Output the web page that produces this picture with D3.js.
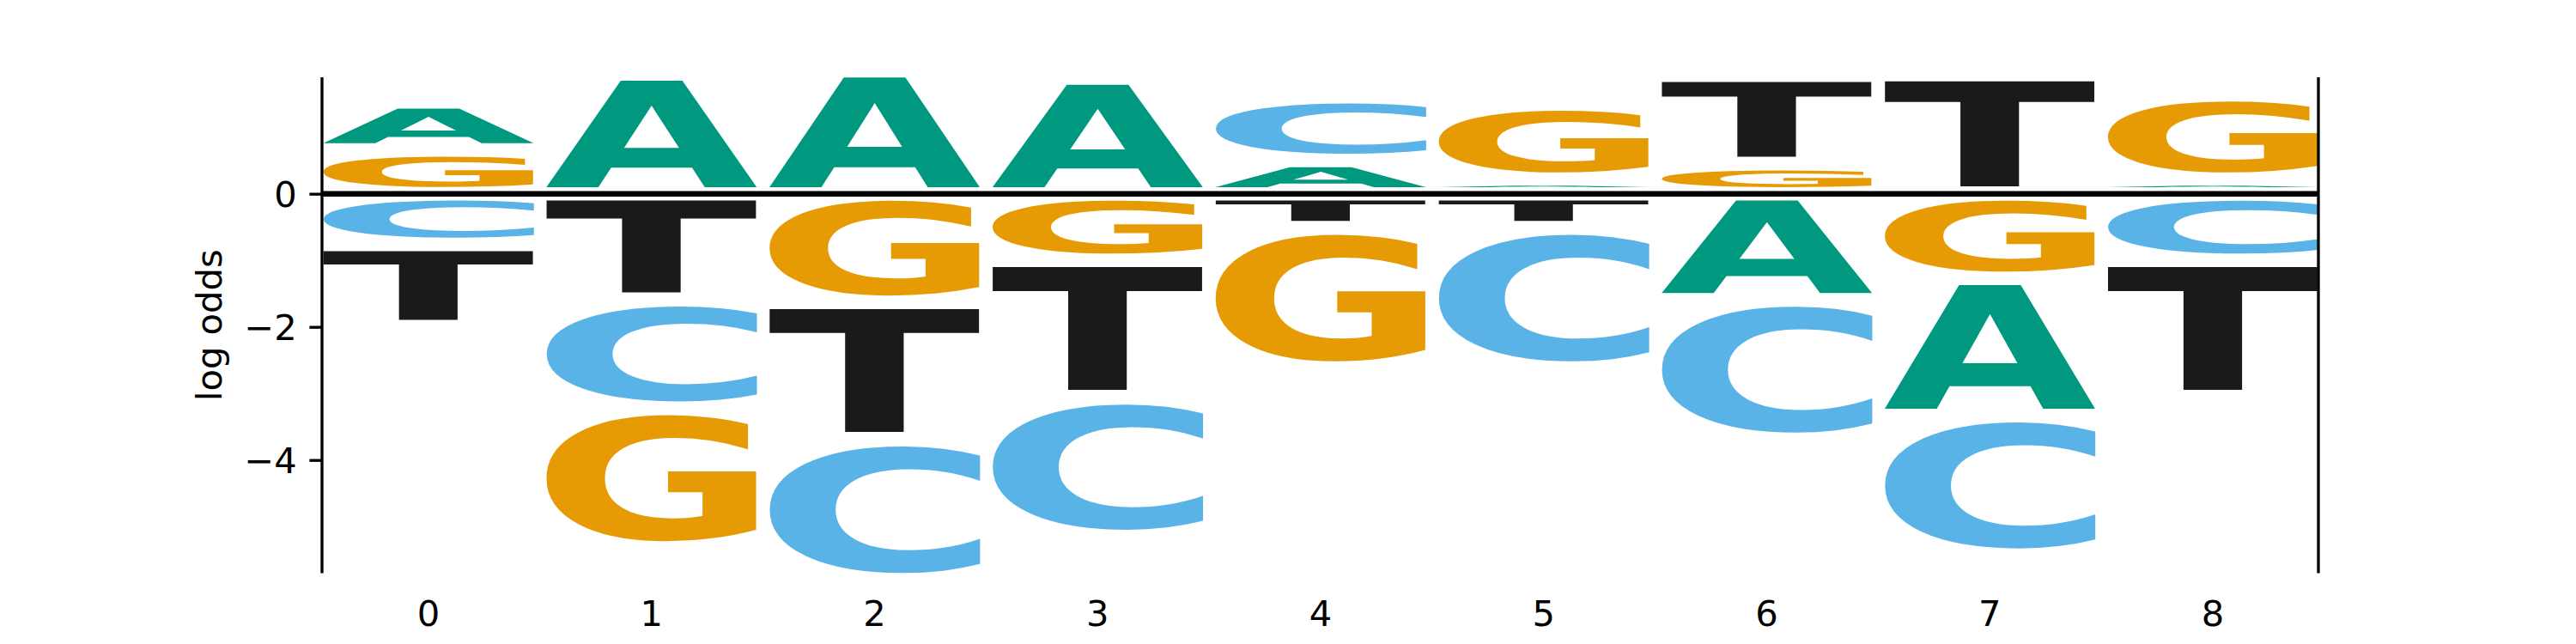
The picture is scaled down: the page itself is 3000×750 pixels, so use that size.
<!DOCTYPE html>
<html>
<head>
<meta charset="utf-8">
<script src="https://cdn.jsdelivr.net/npm/d3@7"></script>
<style>
  body { margin: 0; background: #fff; }
  svg { display: block; font-family: "DejaVu Sans", sans-serif; }
</style>
</head>
<body>
<div id="logo"></div>
<script>
/* sequence logo, log odds */
const positions = [0, 1, 2, 3, 4, 5, 6, 7, 8];
const letters = ["A", "C", "G", "T"];
const valA = [0.52, 1.60, 1.65, 1.54, 0.30, 0.02, -1.39, -1.86, 0.02];
const valC = [-0.56, -1.43, -1.91, -1.89, 0.76, -1.91, -1.90, -1.90, -0.80];
const valG = [0.46, -1.90, -1.43, -0.80, -1.91, 0.93, 0.25, -1.07, 1.07];
const valT = [-1.04, -1.39, -1.86, -1.86, -0.31, -0.31, 1.13, 1.59, -1.86];
const yTicks = [-4, -2, 0];
const yLabel = "log odds";

const colors = { A: "#009980", C: "#59B3E6", G: "#E69B04", T: "#1A1A1A" };
const values = { A: valA, C: valC, G: valG, T: valT };

const width = 3000, height = 750,
    margin = ({ top: 90, right: 300, bottom: 82.5, left: 375 });
const glyphWidth = 0.95, vsep = 0.2;

// stack letters per position, smallest at bottom (logomaker style)
let glyphs = [];
positions.forEach((p, i) => {
    let ws = letters.map(l => ({ letter: l, w: values[l][i] }))
        .sort((a, b) => a.w - b.w);
    let floor = d3.sum(ws, d => d.w < 0 ? d.w - vsep : 0) + vsep / 2;
    for (let d of ws) {
        let ceiling = floor + Math.abs(d.w);
        glyphs.push({ p: p, letter: d.letter, floor: floor, ceiling: ceiling });
        floor = ceiling + vsep;
    }
});

const svg = d3.select("#logo")
    .append("svg")
    .attr("width", width)
    .attr("height", height);

let x = d3.scaleLinear()
    .domain([d3.min(positions) - glyphWidth / 2, d3.max(positions) + glyphWidth / 2])
    .range([margin.left, width - margin.right]);

let y = d3.scaleLinear()
    .domain([d3.min(glyphs, d => d.floor), d3.max(glyphs, d => d.ceiling)])
    .range([height - margin.bottom, margin.top]);

// ink box of each letter, measured on a canvas with the same font
const fontSize = 200;
const ctx = document.createElement("canvas").getContext("2d");
ctx.font = `bold ${fontSize}px "DejaVu Sans"`;
let ink = {};
for (let l of letters) {
    let m = ctx.measureText(l);
    ink[l] = { x0: -m.actualBoundingBoxLeft, x1: m.actualBoundingBoxRight,
               y0: -m.actualBoundingBoxAscent, y1: m.actualBoundingBoxDescent };
}

svg.append("g")
  .selectAll("text")
  .data(glyphs)
  .join("text")
    .attr("font-size", fontSize)
    .attr("font-weight", "bold")
    .attr("fill", d => colors[d.letter])
    .attr("transform", d => {
        let b = ink[d.letter];
        let x0 = x(d.p - glyphWidth / 2), x1 = x(d.p + glyphWidth / 2);
        let y0 = y(d.ceiling), y1 = y(d.floor);
        let sx = (x1 - x0) / (b.x1 - b.x0), sy = (y1 - y0) / (b.y1 - b.y0);
        return `translate(${x0},${y0}) scale(${sx},${sy}) translate(${-b.x0},${-b.y0})`;
    })
    .text(d => d.letter);

// baseline
svg.append("line")
    .attr("x1", x.range()[0])
    .attr("x2", x.range()[1])
    .attr("y1", y(0))
    .attr("y2", y(0))
    .attr("stroke", "black")
    .attr("stroke-width", 6.5);

// spines left and right
svg.append("g")
  .selectAll("line")
  .data(x.range())
  .join("line")
    .attr("x1", d => d)
    .attr("x2", d => d)
    .attr("y1", y.range()[0])
    .attr("y2", y.range()[1])
    .attr("stroke", "black")
    .attr("stroke-width", 3.33);

let yAxis = svg.append("g")
    .attr("transform", `translate(${margin.left},0)`)
    .call(d3.axisLeft(y).tickValues(yTicks).tickFormat(d3.format("d"))
        .tickSize(14.6).tickPadding(14.6));
yAxis.select(".domain").remove();
yAxis.selectAll(".tick line").attr("stroke-width", 3.33);
yAxis.selectAll(".tick text")
    .attr("font-size", 41.67)
    .attr("font-family", "DejaVu Sans")
    .attr("fill", "black")
    .attr("dy", "0.36em")
    .text(d => d < 0 ? "\u2212" + Math.abs(d) : d);

let xAxis = svg.append("g")
    .attr("transform", `translate(0,${height - margin.bottom})`)
    .call(d3.axisBottom(x).tickValues(positions).tickSize(0).tickPadding(0));
xAxis.select(".domain").remove();
xAxis.selectAll(".tick text")
    .attr("font-size", 41.67)
    .attr("font-family", "DejaVu Sans")
    .attr("fill", "black")
    .attr("y", 61.5)
    .attr("dy", 0);

svg.append("text")
    .attr("class", "y-label")
    .attr("text-anchor", "middle")
    .attr("font-size", 41.67)
    .attr("transform", `translate(258,${(margin.top + height - margin.bottom) / 2}) rotate(-90)`)
    .text(yLabel);
</script>
</body>
</html>
